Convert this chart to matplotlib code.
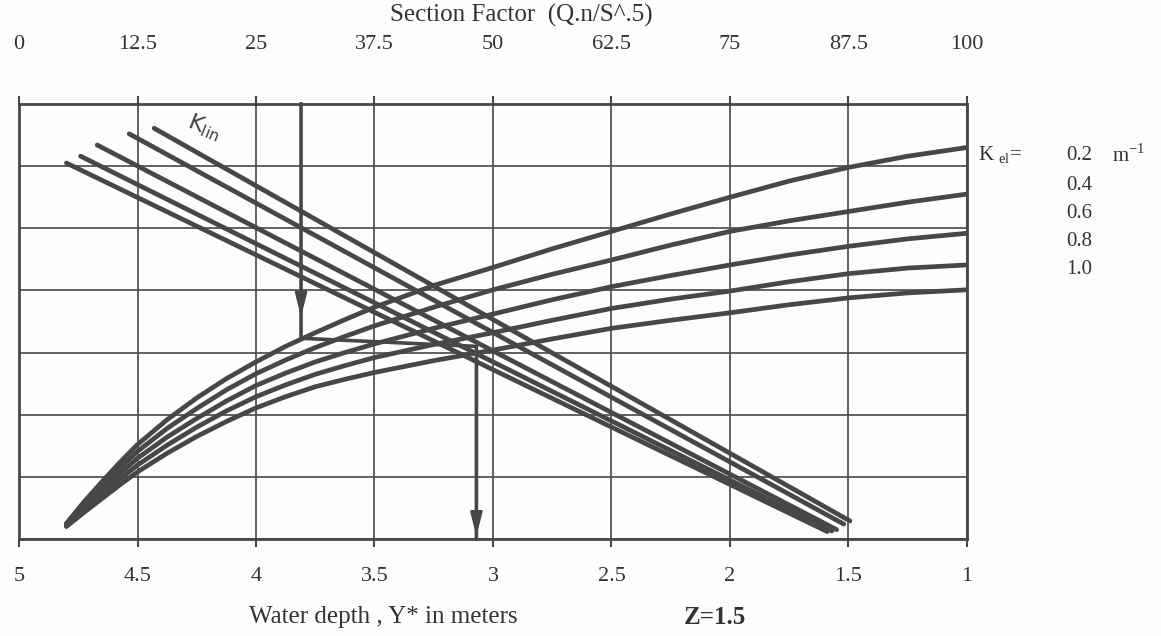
import matplotlib
matplotlib.use("Agg")
import matplotlib.pyplot as plt

plt.rcParams['font.family'] = ['Liberation Serif', 'DejaVu Serif']
plt.rcParams['mathtext.fontset'] = 'custom'
plt.rcParams['mathtext.rm'] = 'Liberation Serif'

# ---------------- data ----------------
depth_ticks = [5, 4.5, 4, 3.5, 3, 2.5, 2, 1.5, 1]
depth_labels = ["5", "4.5", "4", "3.5", "3", "2.5", "2", "1.5", "1"]
sf_ticks = [0, 12.5, 25, 37.5, 50, 62.5, 75, 87.5, 100]
sf_labels = ["0", "12.5", "25", "37.5", "50", "62.5", "75", "87.5", "100"]
kel_values = ["0.2", "0.4", "0.6", "0.8", "1.0"]

# rising curves (K_el), depth vs ordinate (grid units)
depth_el = [4.80, 4.725, 4.65, 4.575, 4.50, 4.375, 4.25, 4.125, 4.00, 3.875, 3.75,
            3.625, 3.50, 3.25, 3.00, 2.75, 2.50, 2.25, 2.00, 1.75, 1.50, 1.25, 1.00]
kel_02 = [0.25, 0.60, 0.92, 1.23, 1.52, 1.92, 2.27, 2.58, 2.85, 3.10, 3.32,
          3.53, 3.73, 4.08, 4.37, 4.67, 4.95, 5.23, 5.50, 5.76, 5.98, 6.16, 6.30]
kel_04 = [0.24, 0.55, 0.85, 1.14, 1.41, 1.78, 2.10, 2.40, 2.66, 2.88, 3.08,
          3.26, 3.43, 3.73, 4.01, 4.26, 4.49, 4.73, 4.95, 5.12, 5.27, 5.42, 5.55]
kel_06 = [0.22, 0.51, 0.78, 1.05, 1.30, 1.64, 1.94, 2.22, 2.47, 2.67, 2.85,
          3.00, 3.14, 3.39, 3.62, 3.85, 4.06, 4.24, 4.41, 4.57, 4.71, 4.83, 4.92]
kel_08 = [0.21, 0.47, 0.71, 0.96, 1.19, 1.51, 1.80, 2.06, 2.29, 2.48, 2.65,
          2.79, 2.92, 3.13, 3.32, 3.52, 3.71, 3.86, 3.99, 4.14, 4.27, 4.36, 4.41]
kel_10 = [0.20, 0.43, 0.65, 0.87, 1.08, 1.38, 1.65, 1.89, 2.11, 2.29, 2.45,
          2.57, 2.68, 2.87, 3.04, 3.22, 3.39, 3.52, 3.64, 3.77, 3.88, 3.96, 4.01]

# falling lines (K_lin): start and end points
klin_depth = [[4.43, 1.494], [4.535, 1.52], [4.67, 1.55], [4.74, 1.57], [4.80, 1.59]]
klin_y = [[6.61, 0.29], [6.52, 0.24], [6.34, 0.15], [6.16, 0.13], [6.05, 0.12]]

# construction path (example reading)
path_depth = [3.81, 3.81, 3.07, 3.07]
path_y = [7.0, 3.23, 3.10, 0.0]

# ---------------- figure ----------------
W, H = 1161, 636
fig = plt.figure(figsize=(W / 100, H / 100), dpi=100, facecolor='#fdfdfd')
x0, x1, y0, y1 = 19, 967, 104, 539
ax = fig.add_axes([x0 / W, 1 - y1 / H, (x1 - x0) / W, (y1 - y0) / H])
ax.set_facecolor('#fdfdfd')

ink = '#474747'
grid_c = '#555555'

ax.set_xlim(5, 1)
ax.set_ylim(0, 7)
ax.set_xticks(depth_ticks)
ax.set_xticklabels(depth_labels, fontsize=16, color='#333333')
ax.set_yticks(range(8))
ax.set_yticklabels([])
ax.tick_params(axis='y', length=0)
ax.tick_params(axis='x', direction='out', length=6, width=1.5, color=ink, pad=14)
ax.grid(True, color=grid_c, lw=1.3)
ax.set_axisbelow(True)
for s in ax.spines.values():
    s.set_color(ink)
    s.set_linewidth(2.0)

ax2 = ax.twiny()
ax2.set_xlim(0, 100)
ax2.set_xticks(sf_ticks)
ax2.set_xticklabels(sf_labels, fontsize=16, color='#333333')
ax2.tick_params(axis='x', direction='out', length=6, width=1.5, color=ink, pad=30)
for s in ax2.spines.values():
    s.set_visible(False)

lw = 3.4
for ys in [kel_02, kel_04, kel_06, kel_08, kel_10]:
    ax.plot(depth_el, ys, color=ink, lw=lw, solid_capstyle='round',
            solid_joinstyle='round', zorder=3)

for xs, ys in zip(klin_depth, klin_y):
    ax.plot(xs, ys, color=ink, lw=lw, solid_capstyle='round', zorder=3)

ax.plot(path_depth, path_y, color=ink, lw=2.6, zorder=4, clip_on=False)
ax.annotate('', xy=(path_depth[0], 3.57), xytext=(path_depth[0], 3.95),
            arrowprops=dict(arrowstyle='-|>,head_length=1.4,head_width=0.35',
                            color=ink, lw=2.0, shrinkA=0, shrinkB=0), zorder=5)
ax.annotate('', xy=(path_depth[3], 0.04), xytext=(path_depth[3], 0.45),
            arrowprops=dict(arrowstyle='-|>,head_length=1.4,head_width=0.35',
                            color=ink, lw=2.0, shrinkA=0, shrinkB=0), zorder=5)

ax.text(4.22, 6.62, r'K$_{\mathregular{lin}}$', fontsize=16, color='#444444',
        rotation=-22, ha='center', va='center', family=['DejaVu Sans'], zorder=5)

# texts
fig.text(521 / W, 1 - 15 / H, 'Section Factor  (Q.n/S^.5)', fontsize=18,
         ha='center', va='center', color='#333333')
fig.text(383 / W, 1 - 617 / H, 'Water depth , Y* in meters', fontsize=18,
         ha='center', va='center', color='#333333')
fig.text(715 / W, 1 - 617 / H, 'Z=1.5', fontsize=18, fontweight='bold',
         ha='center', va='center', color='#333333')

fig.text(978 / W, 1 - 155 / H, r'K $_{\mathregular{el}}$=', fontsize=15,
         ha='left', va='center', color='#333333')
row_y = [155, 185, 214, 242, 270]
for v, yy in zip(kel_values, row_y):
    fig.text(1066 / W, 1 - yy / H, v, fontsize=15, ha='left', va='center', color='#333333')
fig.text(1112 / W, 1 - 155 / H, r'm$^{\mathregular{-1}}$', fontsize=15,
         ha='left', va='center', color='#333333')

fig.savefig('out.png', dpi=100, facecolor=fig.get_facecolor())
